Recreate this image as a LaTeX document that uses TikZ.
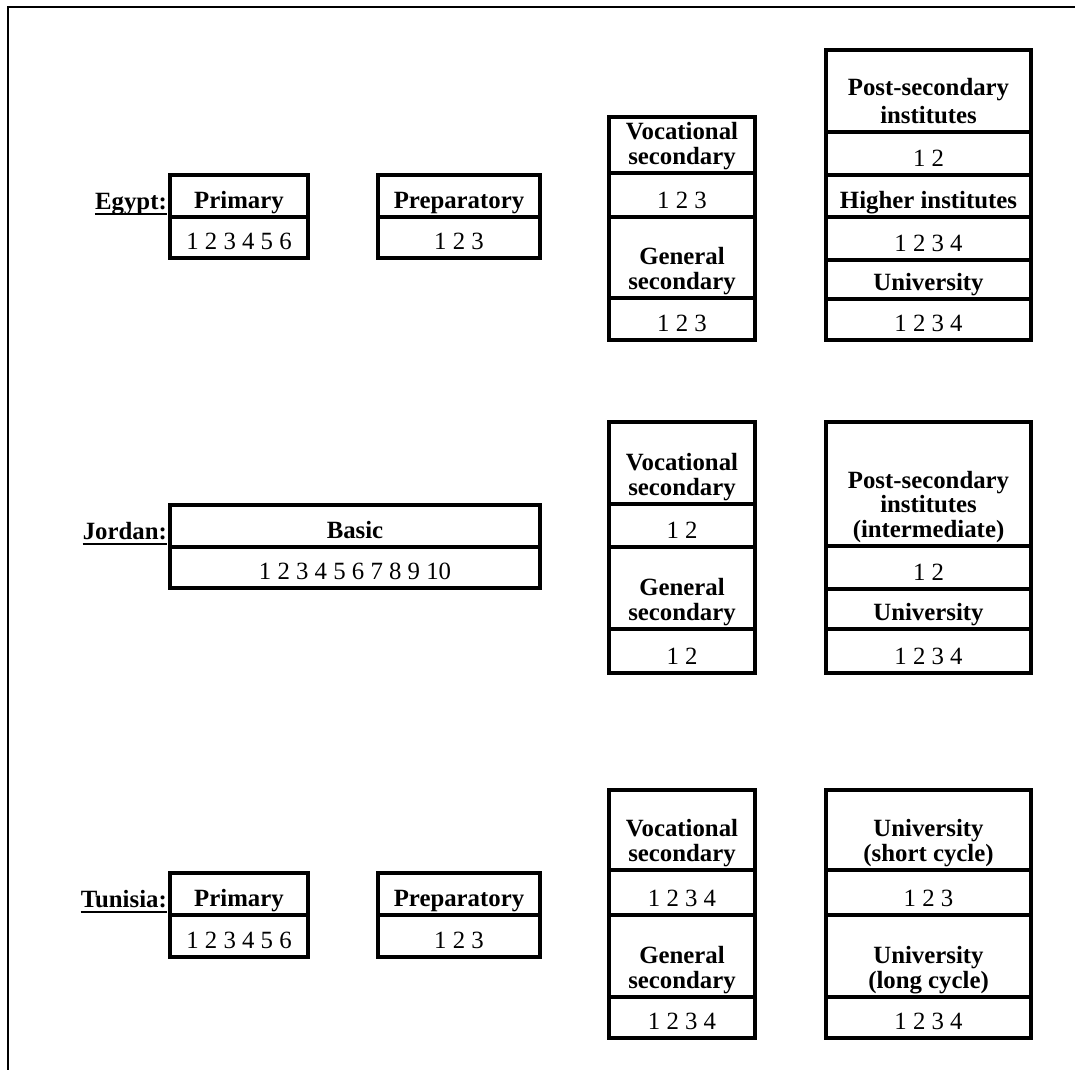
\documentclass[tikz,border=0pt]{standalone}
\usepackage{fontspec}
\setmainfont{Liberation Serif}
\begin{document}
\begin{tikzpicture}[x=1pt,y=-1pt,
  cellbox/.style={draw=black, line width=3.2pt, inner sep=0pt, fill=none},
  celltext/.style={anchor=south, inner sep=0pt, align=center, font=\fontsize{24.8}{24.5}\selectfont},
  hdr/.style={celltext, font=\fontsize{24.8}{24.5}\selectfont\bfseries},
  ctry/.style={anchor=base east, inner sep=0pt, font=\fontsize{24.8}{24.5}\selectfont\bfseries},
  uline/.style={line width=2.2pt},
  frame/.style={line width=2.2pt}]
\useasboundingbox (0,0) rectangle (1075,1070);
\newcommand\cellbox[7]{% name, x1, y1, x2, y2, style, text
  \node[cellbox, minimum width={#4-#2}, minimum height={#5-#3}] (#1) at ({(#2+#4)/2},{(#3+#5)/2}) {};
  \node[#6] (#1t) at ({(#2+#4)/2},{#5-1}) {#7\strut};
}
% frame
\coordinate (ftl) at (8,7);
\coordinate (ftr) at (1075,7);
\coordinate (fbl) at (8,1070);
\draw[frame] (ftr) -- (ftl) -- (fbl);

% ---------------- Egypt
\node[ctry] (egl) at (167,209) {Egypt:};
\draw[uline] ([yshift=-5pt]egl.base west) -- ([yshift=-5pt]egl.base east);
\cellbox{epruh}{170}{175}{308}{217}{hdr}{Primary}
\cellbox{eprun}{170}{217}{308}{258}{celltext}{1 2 3 4 5 6}
\cellbox{epreh}{378}{175}{540}{217}{hdr}{Preparatory}
\cellbox{epren}{378}{217}{540}{258}{celltext}{1 2 3}
\cellbox{evoch}{609}{117}{755}{173}{hdr}{Vocational\\secondary}
\cellbox{evocn}{609}{173}{755}{217}{celltext}{1 2 3}
\cellbox{egenh}{609}{217}{755}{298}{hdr}{General\\secondary}
\cellbox{egenn}{609}{298}{755}{340}{celltext}{1 2 3}
\cellbox{eposh}{826}{50}{1031}{132}{hdr}{Post-secondary\\[3pt]institutes}
\cellbox{eposn}{826}{132}{1031}{175}{celltext}{1 2}
\cellbox{ehigh}{826}{175}{1031}{217}{hdr}{Higher institutes}
\cellbox{ehign}{826}{217}{1031}{260}{celltext}{1 2 3 4}
\cellbox{eunih}{826}{260}{1031}{299}{hdr}{University}
\cellbox{eunin}{826}{299}{1031}{340}{celltext}{1 2 3 4}

% ---------------- Jordan
\node[ctry] (jol) at (167,539) {Jordan:};
\draw[uline] ([yshift=-5pt]jol.base west) -- ([yshift=-5pt]jol.base east);
\cellbox{jbash}{170}{505}{540}{547}{hdr}{Basic}
\cellbox{jbasn}{170}{547}{540}{588}{celltext}{1 2 3 4 5 6 7 8 9 10}
\cellbox{jvoch}{609}{422}{755}{504}{hdr}{Vocational\\secondary}
\cellbox{jvocn}{609}{504}{755}{547}{celltext}{1 2}
\cellbox{jgenh}{609}{547}{755}{629}{hdr}{General\\secondary}
\cellbox{jgenn}{609}{629}{755}{673}{celltext}{1 2}
\cellbox{jposh}{826}{422}{1031}{546}{hdr}{Post-secondary\\institutes\\(intermediate)}
\cellbox{jposn}{826}{546}{1031}{589}{celltext}{1 2}
\cellbox{junih}{826}{589}{1031}{629}{hdr}{University}
\cellbox{junin}{826}{629}{1031}{673}{celltext}{1 2 3 4}

% ---------------- Tunisia
\node[ctry] (tul) at (167,907) {Tunisia:};
\draw[uline] ([yshift=-5pt]tul.base west) -- ([yshift=-5pt]tul.base east);
\cellbox{tpruh}{170}{873}{308}{915}{hdr}{Primary}
\cellbox{tprun}{170}{915}{308}{957}{celltext}{1 2 3 4 5 6}
\cellbox{tpreh}{378}{873}{540}{915}{hdr}{Preparatory}
\cellbox{tpren}{378}{915}{540}{957}{celltext}{1 2 3}
\cellbox{tvoch}{609}{790}{755}{870}{hdr}{Vocational\\secondary}
\cellbox{tvocn}{609}{870}{755}{915}{celltext}{1 2 3 4}
\cellbox{tgenh}{609}{915}{755}{997}{hdr}{General\\secondary}
\cellbox{tgenn}{609}{997}{755}{1038}{celltext}{1 2 3 4}
\cellbox{tush}{826}{790}{1031}{870}{hdr}{University\\(short cycle)}
\cellbox{tusn}{826}{870}{1031}{915}{celltext}{1 2 3}
\cellbox{tulh}{826}{915}{1031}{997}{hdr}{University\\(long cycle)}
\cellbox{tuln}{826}{997}{1031}{1038}{celltext}{1 2 3 4}
\end{tikzpicture}
\end{document}
